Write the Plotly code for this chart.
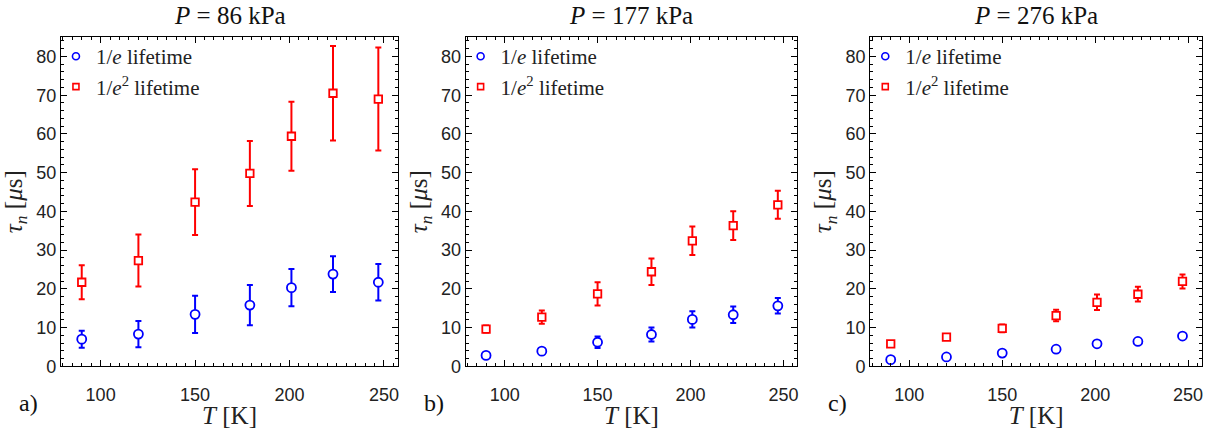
import plotly.graph_objects as go

# ---- data ----
temps = [90, 120, 150, 179, 201, 223, 247]
pressures = ["86", "177", "276"]
panel_tags = ["a)", "b)", "c)"]

# 1/e lifetime (blue) and 1/e^2 lifetime (red), microseconds
tau1_a = [7.0, 8.3, 13.4, 15.8, 20.3, 23.8, 21.7]
err1_a = [2.2, 3.4, 4.8, 5.2, 4.8, 4.6, 4.7]
tau2_a = [21.7, 27.3, 42.4, 49.8, 59.4, 70.5, 69.0]
err2_a = [4.4, 6.7, 8.5, 8.4, 8.9, 12.2, 13.3]

tau1_b = [2.8, 3.9, 6.2, 8.2, 12.1, 13.3, 15.6]
err1_b = [0.4, 0.5, 1.5, 1.8, 2.1, 2.1, 2.0]
tau2_b = [9.6, 12.7, 18.7, 24.4, 32.4, 36.3, 41.7]
err2_b = [0.9, 1.7, 3.0, 3.4, 3.7, 3.7, 3.6]

tau1_c = [1.7, 2.4, 3.4, 4.4, 5.8, 6.4, 7.8]
err1_c = [0.3, 0.3, 0.3, 0.4, 0.5, 0.5, 0.5]
tau2_c = [5.8, 7.5, 9.8, 13.1, 16.5, 18.6, 21.9]
err2_c = [0.6, 0.7, 1.0, 1.5, 2.0, 1.9, 1.8]

series = [
    (tau1_a, err1_a, tau2_a, err2_a),
    (tau1_b, err1_b, tau2_b, err2_b),
    (tau1_c, err1_c, tau2_c, err2_c),
]

BLUE = "#0000FF"
RED = "#FF0000"
SERIF = "Liberation Serif"
SANS = "Liberation Sans"

W, H = 1207, 429
x_domains = [(61 / W, 398.5 / W), (466 / W, 798 / W), (871 / W, 1203 / W)]
y_domain = (1 - 375 / H, 1 - 38 / H)

fig = go.Figure()

for i, (t1, e1, t2, e2) in enumerate(series):
    sfx = "" if i == 0 else str(i + 1)
    xa, ya = "x" + sfx, "y" + sfx
    leg = "legend" + sfx
    # legend-only entries (no error bars in legend)
    fig.add_trace(go.Scatter(
        x=[None], y=[None], mode="markers", name="1/<i>e</i> lifetime",
        marker=dict(symbol="circle", size=7, color="white", line=dict(width=1.6, color=BLUE)),
        xaxis=xa, yaxis=ya, legend=leg, showlegend=True))
    fig.add_trace(go.Scatter(
        x=[None], y=[None], mode="markers", name="1/<i>e</i><sup>2</sup> lifetime",
        marker=dict(symbol="square", size=6, color="white", line=dict(width=1.6, color=RED)),
        xaxis=xa, yaxis=ya, legend=leg, showlegend=True))
    # data
    fig.add_trace(go.Scatter(
        x=temps, y=t1, mode="markers", showlegend=False,
        marker=dict(symbol="circle", size=9, color="white", line=dict(width=1.8, color=BLUE)),
        error_y=dict(type="data", array=e1, visible=True, color=BLUE, thickness=2, width=3),
        xaxis=xa, yaxis=ya))
    fig.add_trace(go.Scatter(
        x=temps, y=t2, mode="markers", showlegend=False,
        marker=dict(symbol="square", size=7.5, color="white", line=dict(width=1.8, color=RED)),
        error_y=dict(type="data", array=e2, visible=True, color=RED, thickness=2, width=3),
        xaxis=xa, yaxis=ya))

axis_common = dict(
    showline=True, linecolor="black", linewidth=1.2, mirror="allticks",
    ticks="inside", ticklen=6, tickwidth=1.2, tickcolor="black",
    showgrid=False, zeroline=False,
    tickfont=dict(family=SANS, size=18, color="#222"),
)

layout = dict(
    width=W, height=H, margin=dict(l=0, r=0, t=0, b=0),
    plot_bgcolor="white", paper_bgcolor="white",
    showlegend=True,
)

for i in range(3):
    sfx = "" if i == 0 else str(i + 1)
    layout["xaxis" + sfx] = dict(
        axis_common, domain=list(x_domains[i]), range=[79, 257.5],
        tickvals=[100, 150, 200, 250], ticklabelstandoff=12,
        minor=dict(dtick=5, tick0=0, ticks="inside", ticklen=3, tickwidth=1, tickcolor="black"),
        anchor="y" + sfx,
        title=dict(text="<i>T</i> [K]", font=dict(family=SERIF, size=25, color="#222"), standoff=0),
    )
    layout["yaxis" + sfx] = dict(
        axis_common, domain=list(y_domain), range=[0, 85],
        tickvals=[0, 10, 20, 30, 40, 50, 60, 70, 80],
        minor=dict(dtick=2, tick0=0, ticks="inside", ticklen=3, tickwidth=1, tickcolor="black"),
        anchor="x" + sfx,
        title=dict(text="<i>τ<sub>n</sub></i> [<i>μ</i>s]", font=dict(family=SERIF, size=25, color="#222"), standoff=6),
    )
    layout["legend" + sfx] = dict(
        x=x_domains[i][0] - 5 / W, y=1 - 37 / H, xanchor="left", yanchor="top",
        bgcolor="rgba(0,0,0,0)", borderwidth=0,
        font=dict(family=SERIF, size=21, color="#222"),
        itemwidth=30, tracegroupgap=0,
    )

fig.update_layout(**layout)

for i in range(3):
    xc = (x_domains[i][0] + x_domains[i][1]) / 2
    fig.add_annotation(
        text=f"<i>P</i> = {pressures[i]} kPa", xref="paper", yref="paper",
        x=xc, y=1 - 16 / H, xanchor="center", yanchor="middle", showarrow=False,
        font=dict(family=SERIF, size=25, color="#111"))
    fig.add_annotation(
        text=panel_tags[i], xref="paper", yref="paper",
        x=x_domains[i][0] - 44 / W, y=1 - 413 / H, xanchor="left", yanchor="middle", showarrow=False,
        font=dict(family=SERIF, size=24, color="#111"))

fig.write_html("out.html")
